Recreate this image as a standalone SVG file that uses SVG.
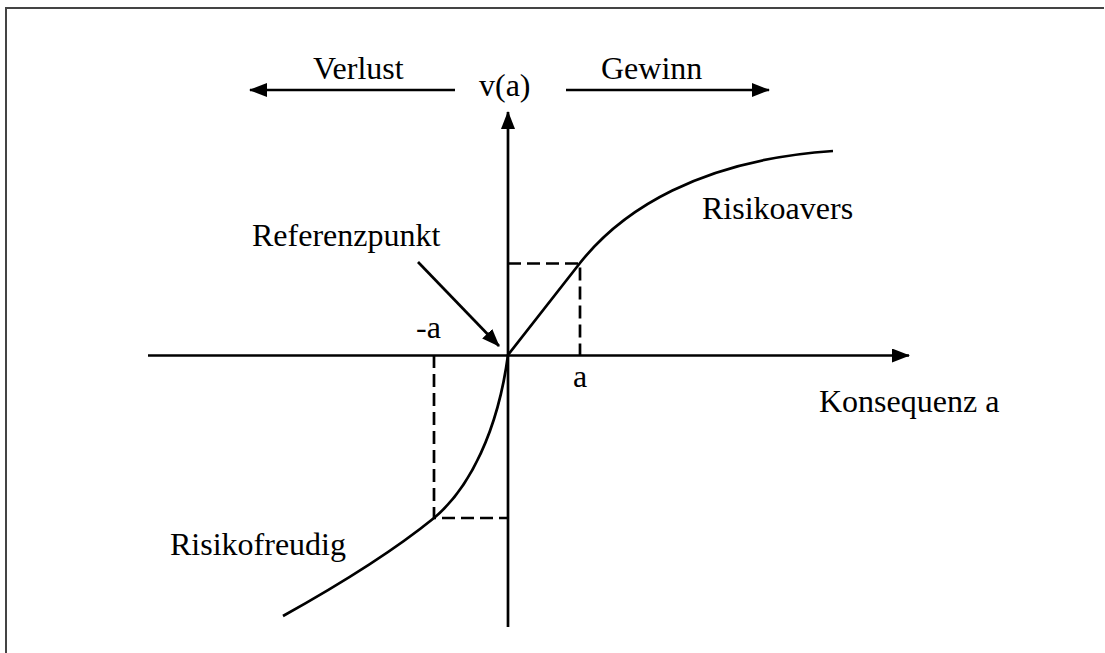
<svg xmlns="http://www.w3.org/2000/svg" width="1105" height="653" viewBox="0 0 1105 653">
<style>
.t{font-family:"Liberation Serif","Times New Roman",serif;font-size:32px;fill:#000}
.ln{stroke:#000;stroke-width:2.7;fill:none}
.ds{stroke:#000;stroke-width:2.7;fill:none;stroke-dasharray:13 6}
.fr{stroke:#444;stroke-width:2;fill:none}
</style>
<defs>
<marker id="ah" markerWidth="18" markerHeight="14" refX="17" refY="7" orient="auto" markerUnits="userSpaceOnUse">
<path d="M0,0 L18,7 L0,14 Z" fill="#000"/>
</marker>
</defs>
<rect width="1105" height="653" fill="#fff"/>
<g id="frame">
<path class="fr" d="M6,653 L6,8 L1104,8"/>
</g>
<g id="connectors">
<line class="ln" x1="148" y1="355.5" x2="909" y2="355.5" marker-end="url(#ah)"/>
<line class="ln" x1="508" y1="627" x2="508" y2="112" marker-end="url(#ah)"/>
<line class="ln" x1="455" y1="90" x2="250" y2="90" marker-end="url(#ah)"/>
<line class="ln" x1="566" y1="90" x2="769" y2="90" marker-end="url(#ah)"/>
<line class="ln" x1="418" y1="262" x2="499" y2="346" marker-end="url(#ah)"/>
<path class="ds" d="M508,263.5 L580,263.5 L580,355"/>
<path class="ds" d="M434,355 L434,518 L508,518"/>
<path class="ln" d="M283,616 Q380,562 434,518 C470,488 498,430 508,355 L580,263 C622,210 700,160 833,151"/>
</g>
<g id="labels">
<text class="t" x="313" y="79">Verlust</text>
<text class="t" x="479" y="96">v(a)</text>
<text class="t" x="601" y="79">Gewinn</text>
<text class="t" x="252" y="246">Referenzpunkt</text>
<text class="t" x="702" y="219">Risikoavers</text>
<text class="t" x="416" y="338">-a</text>
<text class="t" x="573" y="387">a</text>
<text class="t" x="819" y="412">Konsequenz a</text>
<text class="t" x="170" y="555">Risikofreudig</text>
</g>
</svg>
